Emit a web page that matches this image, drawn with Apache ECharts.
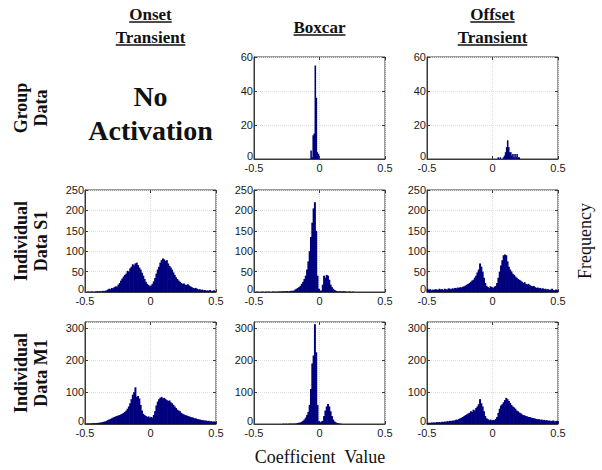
<!DOCTYPE html>
<html><head><meta charset="utf-8">
<script src="https://cdn.jsdelivr.net/npm/echarts@6/dist/echarts.min.js"></script>
<style>html,body{margin:0;padding:0;background:#fff}#c{width:602px;height:470px}</style>
</head><body><div id="c"></div>
<script>
// ---------- data ----------
const columnTitles = [['Onset', 'Transient'], ['Boxcar'], ['Offset', 'Transient']];
const rowTitles = [['Group', 'Data'], ['Individual', 'Data S1'], ['Individual', 'Data M1']];
const xTickValues = [-0.5, 0, 0.5];
const rowYMax = [60, 250, 320];
const rowYInterval = [20, 50, 100];

// individual histograms: 100 bins of width 0.01 from -0.5 to 0.5
const indivBinStart = -0.5;
const indivBinWidth = 0.01;
const onsetS1 = [
  0,0,1,0,1,1,0,1,1,2, 1,2,1,3,2,3,4,6,8,7,
  10,9,12,14,13,18,22,28,33,38, 42,45,52,50,58,62,68,65,70,72,
  66,60,55,47,40,32,25,20,17,14, 16,20,26,34,45,55,62,72,78,82,
  80,76,78,70,64,60,55,48,42,36, 32,28,25,22,20,21,18,17,19,16,
  14,12,10,9,10,8,6,7,5,6, 4,5,3,4,3,5,2,3,4,2
];
const boxcarS1 = [
  0,0,1,0,0,0,1,0,0,1, 0,1,0,0,1,0,1,0,1,1,
  1,1,2,1,2,2,1,2,3,3, 3,6,8,10,12,15,20,25,32,40,
  55,75,100,135,170,205,220,150,40,8, 3,4,18,40,35,42,40,30,18,12,
  8,5,3,2,1,2,1,1,2,1, 1,0,1,1,0,1,0,0,0,0,
  0,0,0,0,0,0,0,0,0,0, 0,0,0,0,0,0,0,0,0,0
];
const offsetS1 = [
  8,5,7,4,6,5,7,6,5,8, 6,7,5,8,7,6,9,8,7,9,
  8,10,9,11,10,12,11,13,14,16, 18,20,22,25,28,30,35,40,48,55,
  70,62,50,35,22,15,12,10,14,12, 10,13,15,22,35,50,65,78,90,92,
  90,75,62,55,50,45,42,38,35,32, 30,28,25,22,24,20,18,20,17,15,
  14,15,12,10,11,9,10,8,9,7, 8,6,7,5,6,8,5,4,6,5
];
const onsetM1 = [
  1,1,2,1,2,2,3,2,3,3, 4,4,5,6,7,8,10,12,14,16,
  18,20,22,24,25,27,28,30,32,35, 38,42,48,55,65,78,92,100,115,85,
  88,80,60,42,32,28,25,22,24,20, 22,20,28,40,58,70,78,82,85,80,
  82,78,75,72,74,68,65,60,55,50, 45,42,40,35,32,30,28,27,25,24,
  22,21,20,18,18,16,15,14,13,12, 12,10,11,9,10,8,9,7,8,7
];
const boxcarM1 = [
  0,0,0,0,0,0,0,0,0,0, 0,0,0,0,0,0,0,0,0,0,
  0,0,1,0,1,0,1,1,1,1, 1,1,2,3,4,5,7,10,14,20,
  28,38,60,110,190,215,313,225,60,8, 5,8,10,25,42,55,63,55,40,25,
  14,8,5,3,2,1,1,0,0,0, 0,0,0,0,0,0,0,0,0,0,
  0,0,0,0,0,0,0,0,0,0, 0,0,0,0,0,0,0,0,0,0
];
const offsetM1 = [
  3,4,3,5,4,5,4,6,5,6, 5,7,6,8,6,9,8,10,9,11,
  10,12,14,13,16,18,20,22,25,28, 30,33,35,40,38,45,42,50,55,62,
  78,65,55,40,25,18,15,12,14,11, 13,12,16,22,35,48,58,62,68,75,
  82,78,72,66,60,55,52,48,42,40, 36,34,30,28,27,25,24,22,22,20,
  19,18,17,16,15,15,13,14,12,13, 11,12,10,11,9,10,11,8,9,10
];

// group histograms: narrow bins of width 0.008
const groupBinWidth = 0.008;
const boxcarGroupStart = -0.068;
const boxcarGroup = [5, 1, 14, 15, 55, 36, 4, 3];
const offsetGroupStart = 0.040;
const offsetGroup = [1, 0, 1, 0, 0, 1, 2, 4, 7, 11, 7, 4, 4, 2, 3, 1, 3, 1, 3, 1, 1];

// ---------- layout ----------
const colLeft = [85, 254, 427];
const rowTop = [57, 190, 322];
const panelW = 131, panelH = 102;
const barColor = '#00007f';
const axisColor = '#3a3a3a';
const serif = '"Liberation Serif", "Times New Roman", serif';
const sans = '"Liberation Sans", Arial, sans-serif';

function binned(counts, start, width) {
  return counts.map((c, i) => [+(start + width * (i + 0.5)).toFixed(4), c]);
}

const panels = [
  { row: 0, col: 1, data: binned(boxcarGroup, boxcarGroupStart, groupBinWidth) },
  { row: 0, col: 2, data: binned(offsetGroup, offsetGroupStart, groupBinWidth) },
  { row: 1, col: 0, data: binned(onsetS1, indivBinStart, indivBinWidth) },
  { row: 1, col: 1, data: binned(boxcarS1, indivBinStart, indivBinWidth) },
  { row: 1, col: 2, data: binned(offsetS1, indivBinStart, indivBinWidth) },
  { row: 2, col: 0, data: binned(onsetM1, indivBinStart, indivBinWidth) },
  { row: 2, col: 1, data: binned(boxcarM1, indivBinStart, indivBinWidth) },
  { row: 2, col: 2, data: binned(offsetM1, indivBinStart, indivBinWidth) }
];

const grids = [], xAxes = [], yAxes = [], series = [];
const tickStyle = { show: true, inside: true, length: 3, lineStyle: { color: axisColor } };
const gridLine = { show: true, lineStyle: { color: '#dedede', type: 'dotted', width: 1 } };
panels.forEach((p, i) => {
  grids.push({
    left: colLeft[p.col], top: rowTop[p.row], width: panelW, height: panelH,
    show: true, borderColor: axisColor, borderWidth: 1, backgroundColor: '#fff',
    containLabel: false, outerBoundsMode: 'none'
  });
  const xBase = { type: 'value', gridIndex: i, min: xTickValues[0], max: xTickValues[2], interval: 0.5 };
  const yBase = { type: 'value', gridIndex: i, min: 0, max: rowYMax[p.row], interval: rowYInterval[p.row] };
  xAxes.push(Object.assign({}, xBase, {
    position: 'bottom',
    axisLine: { show: true, onZero: false, lineStyle: { color: axisColor, width: 1 } },
    axisTick: tickStyle,
    axisLabel: { fontFamily: sans, fontSize: 11, color: '#1a1a1a', margin: 3,
      formatter: v => (v === 0 ? '0' : v.toFixed(1)) },
    splitLine: gridLine
  }));
  xAxes.push(Object.assign({}, xBase, {
    position: 'top',
    axisLine: { show: false, onZero: false }, axisTick: tickStyle,
    axisLabel: { show: false }, splitLine: { show: false }
  }));
  yAxes.push(Object.assign({}, yBase, {
    position: 'left',
    axisLine: { show: true, onZero: false, lineStyle: { color: axisColor, width: 1 } },
    axisTick: tickStyle,
    axisLabel: { fontFamily: sans, fontSize: 11, color: '#1a1a1a', margin: 1,
      showMaxLabel: p.row !== 2,
      formatter: v => (v === 0 ? '{lo|0}' : String(v)),
      rich: { lo: { fontFamily: sans, fontSize: 11, color: '#1a1a1a', padding: [0, 0, 7, 0] } } },
    splitLine: gridLine
  }));
  yAxes.push(Object.assign({}, yBase, {
    position: 'right',
    axisLine: { show: false, onZero: false }, axisTick: tickStyle,
    axisLabel: { show: false }, splitLine: { show: false }
  }));
  series.push({
    type: 'bar', xAxisIndex: 2 * i, yAxisIndex: 2 * i, data: p.data,
    barWidth: '150%', barGap: '0%',
    itemStyle: { color: barColor },
    silent: true, animation: false
  });
});

// ---------- texts ----------
const measureCtx = document.createElement('canvas').getContext('2d');
function textWidth(t, font) { measureCtx.font = font; return measureCtx.measureText(t).width; }

const graphics = [];
const titleFont = 'bold 17px ' + serif;
columnTitles.forEach((lines, c) => {
  const cx = colLeft[c] + panelW / 2;
  const ys = lines.length === 2 ? [14, 37] : [27];
  lines.forEach((t, k) => {
    graphics.push({ type: 'text', x: cx, y: ys[k], style: { text: t, font: titleFont, fill: '#111',
      textAlign: 'center', textVerticalAlign: 'middle' } });
    const w = textWidth(t, titleFont);
    graphics.push({ type: 'line', shape: { x1: cx - w / 2, y1: ys[k] + 8, x2: cx + w / 2, y2: ys[k] + 8 },
      style: { stroke: '#111', lineWidth: 1.5 } });
  });
});
rowTitles.forEach((lines, r) => {
  graphics.push({ type: 'text', x: 31, y: rowTop[r] + panelH / 2, rotation: Math.PI / 2,
    style: { text: lines.join('\n'), font: 'bold 18px ' + serif, fill: '#111', lineHeight: 20,
      textAlign: 'center', textVerticalAlign: 'middle' } });
});
graphics.push({ type: 'text', x: colLeft[0] + panelW / 2, y: 113,
  style: { text: 'No\nActivation', font: 'bold 28px ' + serif, fill: '#111', lineHeight: 34,
    textAlign: 'center', textVerticalAlign: 'middle' } });
graphics.push({ type: 'text', x: 585, y: 241, rotation: Math.PI / 2,
  style: { text: 'Frequency', font: '18px ' + serif, fill: '#111',
    textAlign: 'center', textVerticalAlign: 'middle' } });
graphics.push({ type: 'text', x: 320, y: 457,
  style: { text: 'Coefficient  Value', font: '18px ' + serif, fill: '#111',
    textAlign: 'center', textVerticalAlign: 'middle' } });

const chart = echarts.init(document.getElementById('c'), null, { renderer: 'svg' });
chart.setOption({
  animation: false,
  backgroundColor: '#fff',
  grid: grids, xAxis: xAxes, yAxis: yAxes, series: series,
  graphic: { elements: graphics }
});
</script></body></html>
